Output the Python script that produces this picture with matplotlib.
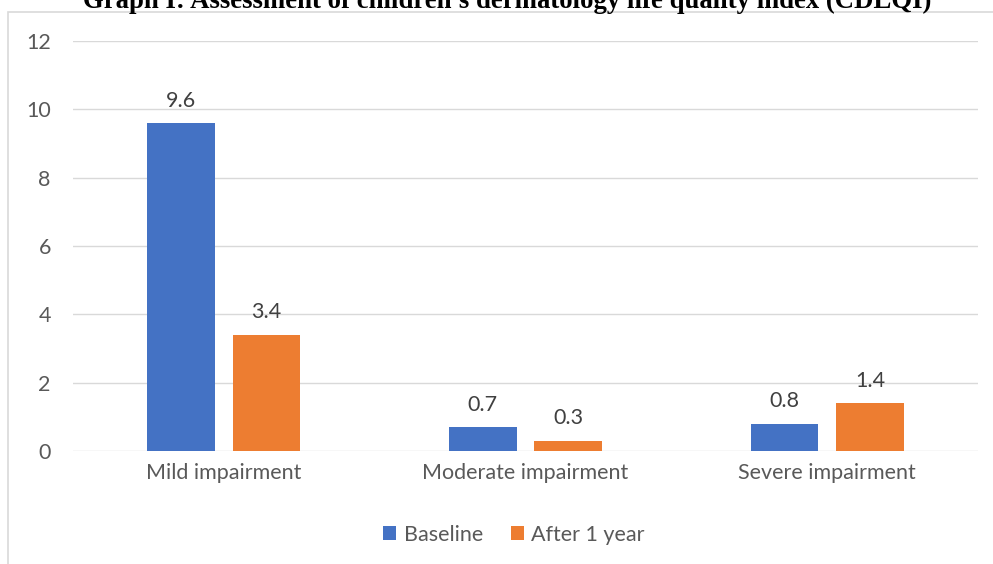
import numpy as np
import matplotlib.pyplot as plt
from matplotlib.patches import Rectangle

# Chart data
categories = ['Mild impairment', 'Moderate impairment', 'Severe impairment']
baseline = [9.6, 0.7, 0.8]
after_1_year = [3.4, 0.3, 1.4]
series_names = ['Baseline', 'After 1 year']
y_ticks = [0, 2, 4, 6, 8, 10, 12]

BLUE = '#4472C4'
ORANGE = '#ED7D31'
TEXT = '#595959'
FS = 15.5

plt.rcParams['font.family'] = ['Lato', 'DejaVu Sans']

fig = plt.figure(figsize=(9.93, 5.64), dpi=100)
ax = fig.add_axes([0.0735, 0.2004, 0.9115, 0.7266])

x = np.arange(len(categories))
width = 0.224
offset = (width + 0.059) / 2

bars1 = ax.bar(x - offset, baseline, width, color=BLUE, label=series_names[0], zorder=3)
bars2 = ax.bar(x + offset, after_1_year, width, color=ORANGE, label=series_names[1], zorder=3)

for bars in (bars1, bars2):
    for b in bars:
        ax.annotate(f'{b.get_height():.1f}', (b.get_x() + b.get_width() / 2, b.get_height()),
                    xytext=(0, 9), textcoords='offset points', ha='center', va='bottom',
                    fontsize=FS, color='#404040')

ax.set_xlim(-0.5, 2.5)
ax.set_ylim(0, 12)
ax.set_yticks(y_ticks)
ax.set_xticks(x)
ax.set_xticklabels(categories)
ax.tick_params(axis='both', length=0, labelsize=FS, labelcolor=TEXT)
ax.tick_params(axis='y', pad=16)
ax.tick_params(axis='x', pad=9)
ax.grid(axis='y', color='#D9D9D9', linewidth=1, zorder=0)
for s in ax.spines.values():
    s.set_visible(False)

ax.legend(loc='center', frameon=False, ncol=2, fontsize=FS, labelcolor=TEXT,
          handlelength=0.6, handleheight=0.6, columnspacing=1.3, handletextpad=0.35)
leg = ax.get_legend()
leg.set_bbox_to_anchor((0.5177, 0.052), transform=fig.transFigure)

# outer chart border
fig.patches.append(Rectangle((8 / 993, -0.1), 1.2, 1.1 - 12 / 564, transform=fig.transFigure,
                             fill=False, edgecolor='#D9D9D9', linewidth=1.2))

fig.text(0.511, 1 - 8 / 564, "Graph I: Assessment of children's dermatology life quality index (CDLQI)",
         ha='center', va='baseline', fontsize=19.3, fontweight='bold',
         family='Liberation Serif', color='black')

fig.savefig('out.png', dpi=100)
